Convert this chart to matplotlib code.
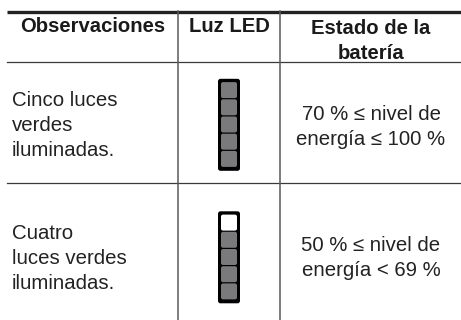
import matplotlib
matplotlib.use("Agg")
import matplotlib.pyplot as plt
from matplotlib.patches import FancyBboxPatch

plt.rcParams['font.family'] = ['Liberation Sans', 'DejaVu Sans']

headers = ["Observaciones", "Luz LED", "Estado de la\nbatería"]
observations = ["Cinco luces\nverdes\niluminadas.", "Cuatro\nluces verdes\niluminadas."]
battery_state = ["70 % ≤ nivel de\nenergía ≤ 100 %", "50 % ≤ nivel de\nenergía < 69 %"]
leds_on = [5, 4]
led_total = 5

fig = plt.figure(figsize=(4.61, 3.20), dpi=100)
ax = fig.add_axes([0, 0, 1, 1])
ax.set_xlim(0, 461)
ax.set_ylim(320, 0)
ax.axis('off')

line = '#3a3a3a'
ax.plot([7, 461], [11.5, 11.5], color='#222222', lw=2.4, solid_capstyle='butt')
ax.plot([7, 461], [62, 62], color=line, lw=0.9)
ax.plot([7, 461], [182.5, 182.5], color=line, lw=0.9)
for x in [178, 280]:
    ax.plot([x, x], [11, 320], color='#5a5a5a', lw=1.1)

# va='baseline' puts the last line of the text on y
for x, y, h in zip([92.5, 229, 371], [32, 32, 59], headers):
    ax.text(x, y, h, ha='center', va='baseline', fontsize=14.6, fontweight='bold',
            color='#1a1a1a', linespacing=1.42)

for y, t in zip([156, 289], observations):
    ax.text(12, y, t, ha='left', va='baseline', fontsize=14.7, color='#222222', linespacing=1.4)
for y, t in zip([145, 276], battery_state):
    ax.text(371, y, t, ha='center', va='baseline', fontsize=14.7, color='#222222', linespacing=1.42)


def draw_led(top, n_on):
    ax.add_patch(FancyBboxPatch((218, top), 22, 92,
                                boxstyle='round,pad=0,rounding_size=2.5',
                                fc='black', ec='none'))
    for i in range(led_total):
        is_on = (led_total - i) <= n_on
        ax.add_patch(FancyBboxPatch((221, top + 3.3 + i * 17.2), 16, 16,
                                    boxstyle='round,pad=0,rounding_size=2',
                                    fc='#7a7a7c' if is_on else 'white', ec='none'))


for top, n in zip([78.8, 211.3], leds_on):
    draw_led(top, n)

fig.savefig('out.png', dpi=100)
